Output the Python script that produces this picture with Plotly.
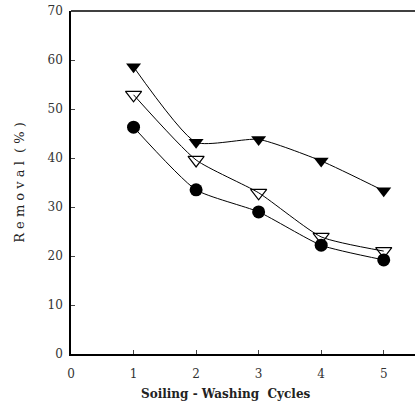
import plotly.graph_objects as go

cycles = [1, 2, 3, 4, 5]
filled_tri = [58.6, 43.2, 43.8, 39.4, 33.3]
open_tri = [52.9, 39.6, 32.9, 23.9, 21.0]
filled_circ = [46.3, 33.5, 29.0, 22.2, 19.2]

x_ticks = [0, 1, 2, 3, 4, 5]
y_ticks = [0, 10, 20, 30, 40, 50, 60, 70]

fig = go.Figure()
line = dict(color="black", width=1, shape="spline", smoothing=0.55)
fig.add_trace(go.Scatter(x=cycles, y=filled_tri, mode="lines+markers", line=line,
                         marker=dict(symbol="triangle-down", size=13, color="black")))
fig.add_trace(go.Scatter(x=cycles, y=open_tri, mode="lines+markers", line=line,
                         marker=dict(symbol="triangle-down-open", size=14, color="black",
                                     line=dict(width=1.2))))
fig.add_trace(go.Scatter(x=cycles, y=filled_circ, mode="lines+markers", line=line,
                         marker=dict(symbol="circle", size=13, color="black")))

tfont = dict(family="DejaVu Serif", size=12, color="#333")
fig.update_layout(
    width=415, height=403, margin=dict(l=71, r=0, t=11, b=49),
    paper_bgcolor="white", plot_bgcolor="white", showlegend=False,
    font=tfont,
    xaxis=dict(range=[0, 5.5], tickvals=x_ticks, ticks="inside", ticklen=4,
               showline=True, linecolor="black", linewidth=1.5, showgrid=False,
               zeroline=False, ticklabelstandoff=8, tickfont=tfont),
    yaxis=dict(range=[0, 70], tickvals=y_ticks, ticks="inside", ticklen=4,
               showline=True, linecolor="black", linewidth=1.5, showgrid=False,
               zeroline=False, ticklabelstandoff=4, tickfont=tfont,
               title=dict(text="R e m o v a l  ( % )", standoff=20,
                          font=dict(family="DejaVu Serif", size=13, color="#222"))),
)
fig.add_annotation(text="<b>Soiling - Washing  Cycles</b>", xref="paper", yref="paper",
                   x=(226 - 71) / 344, y=-40 / 343, xanchor="center", yanchor="middle",
                   showarrow=False, font=dict(family="DejaVu Serif", size=12, color="#222"))
fig.add_shape(type="line", xref="paper", yref="paper", x0=0, x1=1, y0=1, y1=1,
              line=dict(color="black", width=1.5))
fig.write_html("out.html")
